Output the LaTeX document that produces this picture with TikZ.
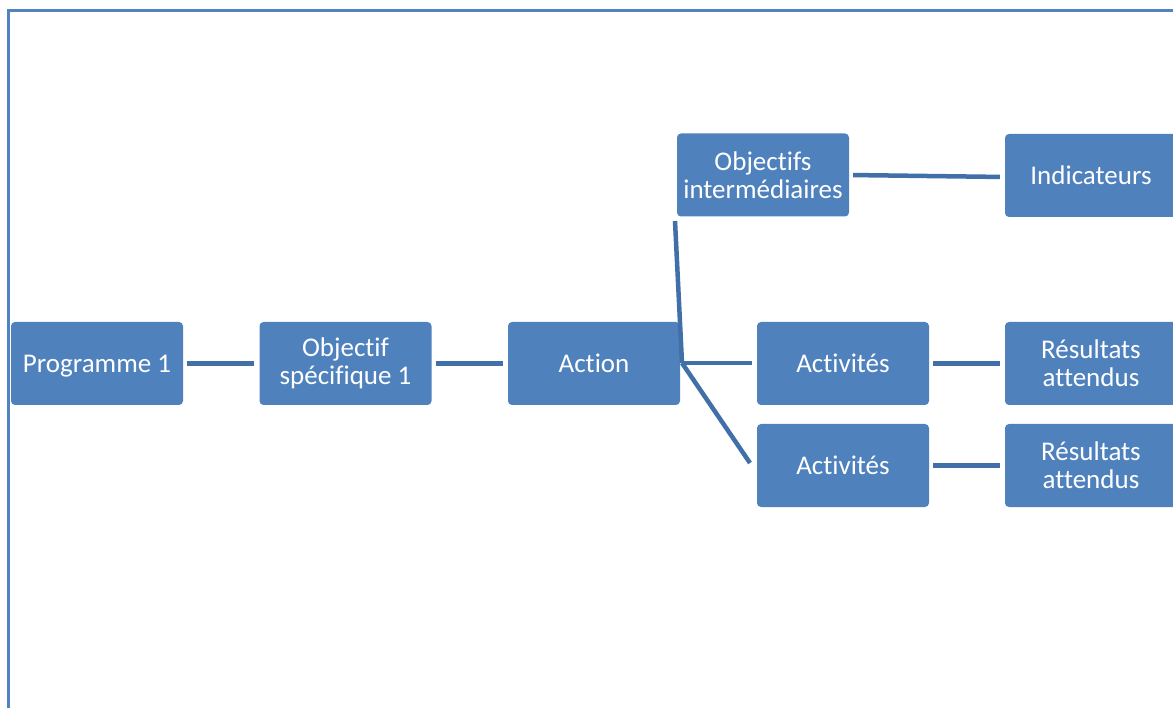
\documentclass[tikz,border=0pt]{standalone}
\usepackage{fontspec}
\setmainfont[Ligatures={NoCommon}]{Carlito}
\usetikzlibrary{calc}
\definecolor{boxblue}{HTML}{4F81BD}
\definecolor{linkblue}{HTML}{416FA8}
\definecolor{framblue}{HTML}{5183C2}
\begin{document}
\begin{tikzpicture}[x=1pt,y=-1pt,
  card/.style={fill=boxblue, draw=none, rounded corners=4pt,
    minimum width=172pt, minimum height=83pt, inner sep=2pt,
    align=center, text=white, font=\fontsize{27}{28}\selectfont},
  oneline/.style={text depth=0pt},
  link/.style={draw=linkblue, line width=4.5pt}]
\useasboundingbox (0,0) rectangle (1173,708);
% page frame
\draw[framblue, line width=3pt] (8,710) -- (8,11) -- (1175,11);
% boxes
\node[card,oneline] (prog) at (97,363.5) {Programme 1};
\node[card] (obj)    at (345.5,363.5) {Objectif\\spécifique 1};
\node[card] (action) at (594,363.5)  {Action};
\node[card] (inter)  at (763,175)    {Objectifs\\intermédiaires};
\node[card] (indic)  at (1091,175.5) {Indicateurs};
\node[card] (act1)   at (843,363.5)  {Activités};
\node[card] (res1)   at (1091,363.5) {Résultats\\attendus};
\node[card] (act2)   at (843,465.5)  {Activités};
\node[card] (res2)   at (1091,465.5) {Résultats\\attendus};
% branch point and free ends
\coordinate (j) at (682,363);
\coordinate (upend) at (675,221);
\coordinate (downend) at (750,463);
% connectors
\draw[link, shorten <=4pt, shorten >=5pt] (prog.east) -- (obj.west);
\draw[link, shorten <=4pt, shorten >=5pt] (obj.east) -- (action.west);
\draw[link, shorten <=4pt, shorten >=5pt] (inter.east) -- ($(indic.west)+(0,1.5)$);
\draw[link] (upend) -- (j);
\draw[link, shorten >=5pt] (j) -- (act1.west |- j);
\draw[link] (j) -- (downend);
\draw[link, shorten <=4pt, shorten >=5pt] (act1.east) -- (res1.west);
\draw[link, shorten <=4pt, shorten >=5pt] (act2.east) -- (res2.west);
\end{tikzpicture}
\end{document}
